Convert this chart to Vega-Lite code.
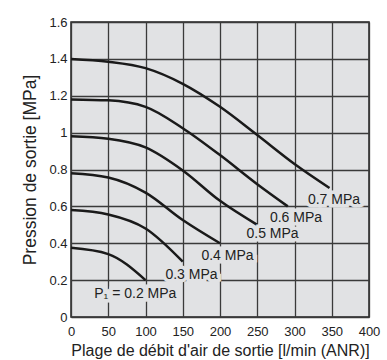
{
  "$schema": "https://vega.github.io/schema/vega-lite/v6.json",
  "autosize": "none",
  "width": 298,
  "height": 295,
  "padding": {"left": 71, "top": 22, "right": 18, "bottom": 43},
  "background": "#ffffff",
  "config": {
    "font": "Liberation Sans",
    "view": {"fill": "#e1e2e4", "stroke": "#222222", "strokeWidth": 1.5}
  },
  "datasets": {
    "curves": [
      {"p": "0.7", "q": 0, "P2": 1.40}, {"p": "0.7", "q": 50, "P2": 1.385}, {"p": "0.7", "q": 100, "P2": 1.35}, {"p": "0.7", "q": 150, "P2": 1.265}, {"p": "0.7", "q": 200, "P2": 1.14}, {"p": "0.7", "q": 250, "P2": 0.987}, {"p": "0.7", "q": 300, "P2": 0.83}, {"p": "0.7", "q": 347, "P2": 0.70},
      {"p": "0.6", "q": 0, "P2": 1.18}, {"p": "0.6", "q": 50, "P2": 1.175}, {"p": "0.6", "q": 100, "P2": 1.14}, {"p": "0.6", "q": 150, "P2": 1.024}, {"p": "0.6", "q": 200, "P2": 0.878}, {"p": "0.6", "q": 250, "P2": 0.72}, {"p": "0.6", "q": 291, "P2": 0.60},
      {"p": "0.5", "q": 0, "P2": 0.98}, {"p": "0.5", "q": 50, "P2": 0.967}, {"p": "0.5", "q": 100, "P2": 0.92}, {"p": "0.5", "q": 150, "P2": 0.795}, {"p": "0.5", "q": 200, "P2": 0.63}, {"p": "0.5", "q": 250, "P2": 0.50},
      {"p": "0.4", "q": 0, "P2": 0.78}, {"p": "0.4", "q": 50, "P2": 0.757}, {"p": "0.4", "q": 100, "P2": 0.675}, {"p": "0.4", "q": 150, "P2": 0.526}, {"p": "0.4", "q": 200, "P2": 0.40},
      {"p": "0.3", "q": 0, "P2": 0.58}, {"p": "0.3", "q": 50, "P2": 0.556}, {"p": "0.3", "q": 100, "P2": 0.48}, {"p": "0.3", "q": 150, "P2": 0.30},
      {"p": "0.2", "q": 0, "P2": 0.375}, {"p": "0.2", "q": 50, "P2": 0.341}, {"p": "0.2", "q": 100, "P2": 0.20}
    ],
    "labels": [
      {"q": 353, "P2": 0.634, "label": "0.7 MPa"},
      {"q": 302, "P2": 0.538, "label": "0.6 MPa"},
      {"q": 270.5, "P2": 0.452, "label": "0.5 MPa"},
      {"q": 210, "P2": 0.333, "label": "0.4 MPa"},
      {"q": 161.7, "P2": 0.229, "label": "0.3 MPa"},
      {"q": 86.3, "P2": 0.126, "label": "P₁ = 0.2 MPa"}
    ]
  },
  "encoding": {
    "x": {
      "field": "q", "type": "quantitative",
      "scale": {"domain": [0, 400], "nice": false, "zero": false},
      "axis": {
        "values": [0, 50, 100, 150, 200, 250, 300, 350, 400],
        "title": "Plage de débit d'air de sortie [l/min (ANR)]",
        "titleFontSize": 16, "titleFontWeight": "normal", "titleColor": "#222222", "titlePadding": 4,
        "labelFontSize": 13, "labelColor": "#222222", "labelPadding": 8, "labelFlush": false,
        "ticks": false, "domain": false,
        "grid": true, "gridColor": "#3a3a3a", "gridWidth": 1.3
      }
    },
    "y": {
      "field": "P2", "type": "quantitative",
      "scale": {"domain": [0, 1.6], "nice": false, "zero": false},
      "axis": {
        "values": [0, 0.2, 0.4, 0.6, 0.8, 1, 1.2, 1.4, 1.6],
        "format": "~g",
        "title": "Pression de sortie [MPa]",
        "titleFontSize": 17.5, "titleFontWeight": "normal", "titleColor": "#222222", "titlePadding": 9,
        "labelFontSize": 13, "labelColor": "#222222", "labelPadding": 4, "labelFlush": false,
        "ticks": false, "domain": false,
        "grid": true, "gridColor": "#3a3a3a", "gridWidth": 1.3
      }
    }
  },
  "layer": [
    {
      "data": {"name": "curves"},
      "mark": {"type": "line", "interpolate": "monotone", "color": "#1a1a1a", "strokeWidth": 2.5},
      "encoding": {"detail": {"field": "p", "type": "nominal"}}
    },
    {
      "data": {"name": "labels"},
      "mark": {"type": "text", "fontSize": 14, "stroke": "#e1e2e4", "strokeWidth": 7, "strokeJoin": "miter", "color": "#e1e2e4"},
      "encoding": {"text": {"field": "label", "type": "nominal"}}
    },
    {
      "data": {"name": "labels"},
      "mark": {"type": "text", "fontSize": 14, "color": "#222222"},
      "encoding": {"text": {"field": "label", "type": "nominal"}}
    }
  ]
}
